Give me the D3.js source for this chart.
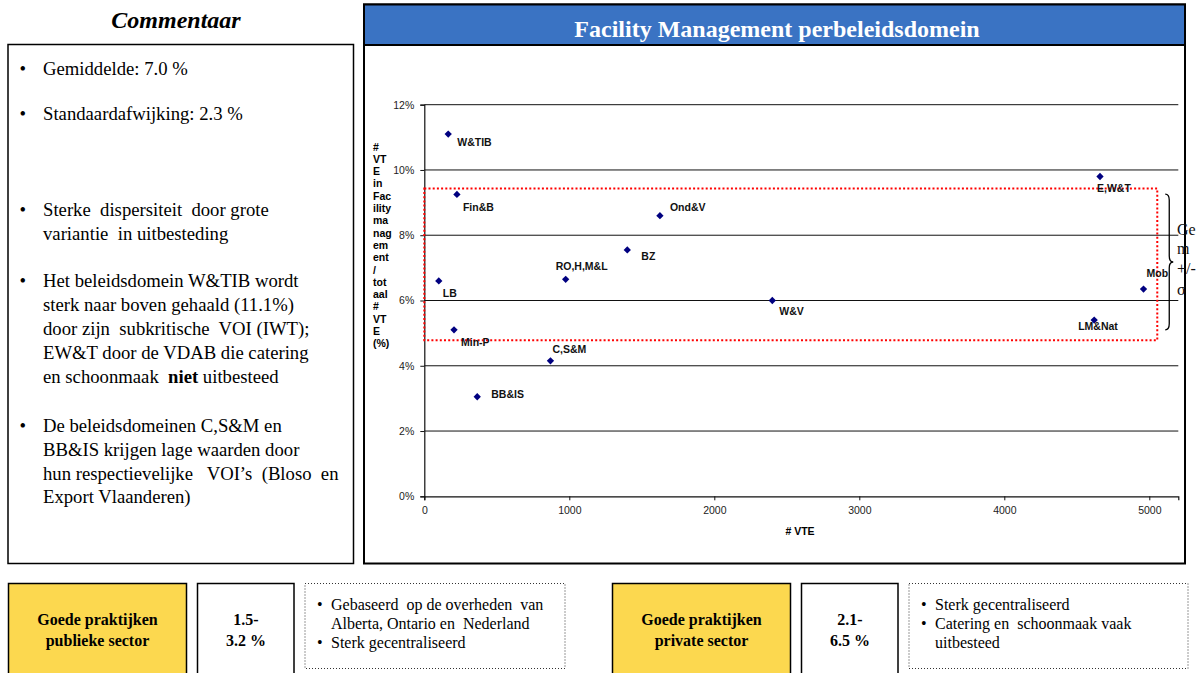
<!DOCTYPE html>
<html>
<head>
<meta charset="utf-8">
<script src="https://cdn.jsdelivr.net/npm/d3@7"></script>
<style>
  html, body { margin: 0; padding: 0; background: #fff; }
  svg { display: block; }
</style>
</head>
<body>
<svg id="page" width="1197" height="673"></svg>
<script>
// Policy domains, their headcount (# VTE) and share of staff in facility management (%)
const domains = ["W&TIB", "Fin&B", "Ond&V", "BZ", "RO,H,M&L", "LB", "W&V", "Min-P", "C,S&M", "BB&IS", "E,W&T", "Mob", "LM&Nat"];
const vte = [165, 225, 1625, 1400, 975, 100, 2400, 205, 870, 365, 4660, 4960, 4620];
const fmShare = [11.1, 9.25, 8.6, 7.55, 6.65, 6.6, 6.0, 5.1, 4.15, 3.05, 9.8, 6.35, 5.4];

// Label placement relative to each marker (pixels)
const labelOffsets = [[9, 8], [6, 13], [10, -8], [14, 6], [-10, -13], [4, 12], [7, 11], [7, 12], [2, -12], [14, -3], [-3, 12], [3, -16], [-16, 6]];

// Axis ticks
const xTicks = [0, 1000, 2000, 3000, 4000, 5000];
const yTicks = [0, 2, 4, 6, 8, 10, 12];

// Mean +/- sigma band as drawn on the chart
const bandRange = [4.78, 9.43];
const bandXMax = 5055;
const braceRange = [5.1, 9.26];

// Text blocks
const commentLines = [
  { t: "Gemiddelde: 7.0 %", b: true },
  { t: "Standaardafwijking: 2.3 %", b: true },
  { t: "Sterke  dispersiteit  door grote", b: true },
  { t: "variantie  in uitbesteding", b: false },
  { t: "Het beleidsdomein W&TIB wordt", b: true },
  { t: "sterk naar boven gehaald (11.1%)", b: false },
  { t: "door zijn  subkritische  VOI (IWT);", b: false },
  { t: "EW&T door de VDAB die catering", b: false },
  { t: "en schoonmaak  |niet| uitbesteed", b: false },
  { t: "De beleidsdomeinen C,S&M en", b: true },
  { t: "BB&IS krijgen lage waarden door", b: false },
  { t: "hun respectievelijke   VOI\u2019s  (Bloso  en", b: false },
  { t: "Export Vlaanderen)", b: false }
];
const commentBaselines = [75, 120, 216, 240, 287, 311, 335, 359, 383, 432, 456, 480, 503];
const yAxisTitle = ["#", "VT", "E", "in", "Fac", "ility", "ma", "nag", "em", "ent", "/", "tot", "aal", "#", "VT", "E", "(%)"];
const braceText = ["Ge", "m", "+/-", "\u03c3"];

const publicBest = { head: ["Goede praktijken", "publieke sector"], range: ["1.5-", "3.2 %"],
  notes: [{ t: "Gebaseerd  op de overheden  van", b: true }, { t: "Alberta, Ontario en  Nederland", b: false }, { t: "Sterk gecentraliseerd", b: true }] };
const privateBest = { head: ["Goede praktijken", "private sector"], range: ["2.1-", "6.5 %"],
  notes: [{ t: "Sterk gecentraliseerd", b: true }, { t: "Catering en  schoonmaak vaak", b: true }, { t: "uitbesteed", b: false }] };

const SERIF = "'Liberation Serif', 'Times New Roman', serif";
const SANS = "'Liberation Sans', Arial, sans-serif";

const svg = d3.select("#page");

// ---------- Commentary panel ----------
svg.append("text").attr("x", 176).attr("y", 28).attr("text-anchor", "middle")
  .attr("font-family", SERIF).attr("font-size", 24).attr("font-weight", "bold").attr("font-style", "italic")
  .text("Commentaar");
svg.append("rect").attr("x", 8).attr("y", 44.5).attr("width", 345.5).attr("height", 519)
  .attr("fill", "none").attr("stroke", "#000").attr("stroke-width", 1.5);

const comment = svg.append("g").attr("font-family", SERIF).attr("font-size", 18.7).attr("fill", "#000");
commentLines.forEach((ln, i) => {
  const y = commentBaselines[i];
  if (ln.b) comment.append("text").attr("x", 19.5).attr("y", y).text("\u2022");
  const t = comment.append("text").attr("x", 43).attr("y", y).attr("xml:space", "preserve");
  ln.t.split("|").forEach((part, k) => {
    t.append("tspan").attr("font-weight", k === 1 ? "bold" : "normal").text(part);
  });
});

// ---------- Chart panel ----------
const panel = { x: 364, y: 4.5, w: 821, h: 559 };
svg.append("rect").attr("x", panel.x).attr("y", panel.y).attr("width", panel.w).attr("height", panel.h)
  .attr("fill", "#fff").attr("stroke", "#000").attr("stroke-width", 2);
svg.append("rect").attr("x", panel.x).attr("y", panel.y).attr("width", panel.w).attr("height", 40.5)
  .attr("fill", "#3a73c3").attr("stroke", "#000").attr("stroke-width", 2);
svg.append("text").attr("x", 777).attr("y", 37).attr("text-anchor", "middle")
  .attr("font-family", SERIF).attr("font-size", 24).attr("font-weight", "bold").attr("fill", "#fff")
  .text("Facility Management perbeleidsdomein");

const x = d3.scaleLinear().domain([0, 5200]).range([424.3, 1178.3]);
const y = d3.scaleLinear().domain([0, 12]).range([496.3, 104.7]);

// horizontal gridlines
svg.append("g").selectAll("line").data(yTicks.filter(v => v > 0)).join("line")
  .attr("x1", x(0)).attr("x2", x(5200)).attr("y1", d => y(d)).attr("y2", d => y(d))
  .attr("stroke", "#111").attr("stroke-width", 1);

const xAxis = svg.append("g").attr("transform", `translate(0,${y(0)})`)
  .call(d3.axisBottom(x).tickValues(xTicks).tickFormat(d3.format("d")).tickSize(4).tickPadding(6));
const yAxis = svg.append("g").attr("transform", `translate(${x(0)},0)`)
  .call(d3.axisLeft(y).tickValues(yTicks).tickFormat(d => d + "%").tickSize(4).tickPadding(6));
[xAxis, yAxis].forEach(a => {
  a.select(".domain").attr("stroke", "#111").attr("stroke-width", 1.2);
  a.selectAll(".tick line").attr("stroke", "#111");
  a.selectAll(".tick text").attr("font-family", SANS).attr("font-size", 10.5).attr("fill", "#222");
});

// axis titles
svg.append("text").attr("x", 800).attr("y", 535).attr("text-anchor", "middle")
  .attr("font-family", SANS).attr("font-size", 10.5).attr("font-weight", "bold").text("# VTE");
svg.append("g").attr("font-family", SANS).attr("font-size", 10.5).attr("font-weight", "bold")
  .selectAll("text").data(yAxisTitle).join("text")
  .attr("x", 373).attr("y", (d, i) => 150.5 + i * 12.3).text(d => d);

// mean +/- sigma band
svg.append("rect")
  .attr("x", x(0)).attr("y", y(bandRange[1]))
  .attr("width", x(bandXMax) - x(0)).attr("height", y(bandRange[0]) - y(bandRange[1]))
  .attr("fill", "none").attr("stroke", "#ff0000").attr("stroke-width", 2).attr("stroke-dasharray", "2 2.2");

// curly brace beside the band
const bx = x(5110), bt = y(braceRange[1]), bb = y(braceRange[0]), bm = (bt + bb) / 2;
svg.append("path")
  .attr("d", `M${bx},${bt} Q${bx + 4},${bt} ${bx + 4},${bt + 6} L${bx + 4},${bm - 6} Q${bx + 4},${bm} ${bx + 8},${bm}`
    + ` Q${bx + 4},${bm} ${bx + 4},${bm + 6} L${bx + 4},${bb - 6} Q${bx + 4},${bb} ${bx},${bb}`)
  .attr("fill", "none").attr("stroke", "#000").attr("stroke-width", 1.3);
svg.append("g").attr("font-family", SERIF).attr("font-size", 16).attr("fill", "#111")
  .selectAll("text").data(braceText).join("text")
  .attr("x", 1177).attr("y", (d, i) => [235, 254, 274, 295][i]).text(d => d);

// markers and labels
const pts = domains.map((name, i) => ({ name, v: vte[i], p: fmShare[i], off: labelOffsets[i] }));
svg.append("g").selectAll("path").data(pts).join("path")
  .attr("transform", d => `translate(${x(d.v)},${y(d.p)})`)
  .attr("d", d3.symbol(d3.symbolDiamond2, 34))
  .attr("fill", "#000080");
svg.append("g").attr("font-family", SANS).attr("font-size", 10.5).attr("font-weight", "bold").attr("fill", "#111")
  .selectAll("text").data(pts).join("text")
  .attr("x", d => x(d.v) + d.off[0]).attr("y", d => y(d.p) + d.off[1] + 3.8)
  .text(d => d.name);

// ---------- Benchmark boxes ----------
function benchmark(info, x0) {
  const g = svg.append("g").attr("font-family", SERIF).attr("font-size", 16);
  g.append("rect").attr("x", x0).attr("y", 583.5).attr("width", 178).attr("height", 95)
    .attr("fill", "#fcd84f").attr("stroke", "#000").attr("stroke-width", 1.5);
  g.append("rect").attr("x", x0 + 189).attr("y", 583.5).attr("width", 96.5).attr("height", 95)
    .attr("fill", "#fff").attr("stroke", "#000").attr("stroke-width", 1.5);
  info.head.forEach((t, i) => g.append("text").attr("x", x0 + 89).attr("y", 625 + i * 21)
    .attr("text-anchor", "middle").attr("font-weight", "bold").text(t));
  info.range.forEach((t, i) => g.append("text").attr("x", x0 + 237.5).attr("y", 625 + i * 21)
    .attr("text-anchor", "middle").attr("font-weight", "bold").text(t));
  return g;
}
function notesBox(info, x0, w) {
  const g = svg.append("g").attr("font-family", SERIF).attr("font-size", 16);
  g.append("rect").attr("x", x0).attr("y", 583.5).attr("width", w).attr("height", 85)
    .attr("fill", "#fff").attr("stroke", "#333").attr("stroke-width", 1).attr("stroke-dasharray", "1 2");
  info.notes.forEach((n, i) => {
    const yy = 610 + i * 19;
    if (n.b) g.append("text").attr("x", x0 + 12).attr("y", yy).text("\u2022");
    g.append("text").attr("x", x0 + 26).attr("y", yy).attr("xml:space", "preserve").text(n.t);
  });
}
benchmark(publicBest, 8.5);
notesBox(publicBest, 305, 260);
benchmark(privateBest, 612.5);
notesBox(privateBest, 909, 279);
</script>
</body>
</html>
